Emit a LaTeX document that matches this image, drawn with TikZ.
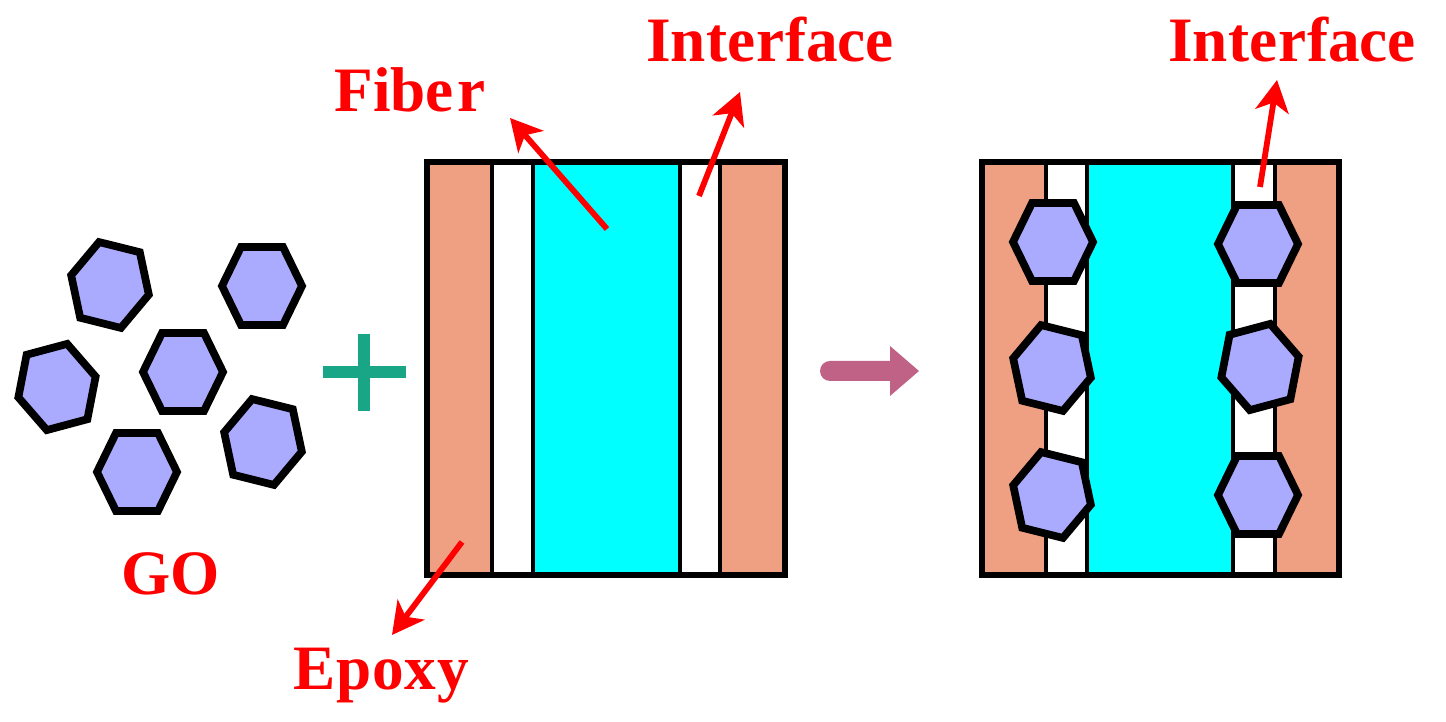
\documentclass[tikz,border=0pt]{standalone}
\usepackage{fontspec}
\usepackage{xcolor}
\setmainfont{Liberation Serif}
\usetikzlibrary{arrows.meta}
\usetikzlibrary{positioning}
\definecolor{my_epoxy}{HTML}{F0A082}
\definecolor{my_fiber}{RGB}{0,255,255}
\definecolor{my_violet}{HTML}{AAAAFF}
\definecolor{my_teal}{HTML}{18A687}
\definecolor{my_mauve}{HTML}{C06286}
\tikzset{my_picture/.style={x=0.02cm,y=0.02cm}}
\tikzset{my_label/.style={text=red, inner sep=0pt, anchor=base west, font=\fontsize{36}{36}\selectfont\bfseries}}
\tikzset{my_pointer/.style={-{Stealth[length=18pt,width=19pt,inset=5pt]}, red, line width=3.3pt}}
\tikzset{my_frame/.style={draw=black, line width=3.8pt}}
\tikzset{my_divider/.style={draw=black, line width=2.2pt}}
\tikzset{my_flake/.pic={
    \draw[fill=my_violet, line width=4.4pt]
        (40,0) -- (21,39) -- (-21,39) -- (-40,0) -- (-21,-39) -- (21,-39) -- cycle;
}}
\newcommand{\stripbox}[6]{
    \fill[my_epoxy] (#1,560) rectangle (#6,147);
    \fill[white] (#2,560) rectangle (#5,147);
    \fill[my_fiber] (#3,560) rectangle (#4,147);
    \foreach \x in {#2,#3,#4,#5}
        \draw[my_divider] (\x,560) -- (\x,147);
    \draw[my_frame] (#1,147) rectangle (#6,560);
}

\begin{document}
\begin{tikzpicture}[my_picture]
    \useasboundingbox (0,0) rectangle (1446,722);

    % loose flakes
    \pic[rotate=-14] (go_a) at (110,437) {my_flake};
    \pic (go_b) at (262,436) {my_flake};
    \pic (go_c) at (183,350) {my_flake};
    \pic[rotate=15] (go_d) at (57,335) {my_flake};
    \pic[rotate=-14] (go_e) at (263,280) {my_flake};
    \pic (go_f) at (137,250) {my_flake};
    \node[my_label] (go) at (121,127) {GO};

    % plus sign
    \draw[my_teal, line width=6.6pt] (323,350) -- (406,350);
    \draw[my_teal, line width=6.6pt] (364,388) -- (364,311);

    % left fiber
    \stripbox{427}{492}{533}{680}{720}{785}

    % process arrow
    \fill[my_mauve] (830,361) -- (890,361) -- (890,376) -- (919,351) -- (890,326)
        -- (890,341) -- (830,341) arc (270:90:10) -- cycle;

    % right fiber
    \stripbox{982}{1046}{1087}{1233}{1275}{1339}
    \pic (go_g) at (1053,480) {my_flake};
    \pic[rotate=-14] (go_h) at (1052,354) {my_flake};
    \pic[rotate=-14] (go_i) at (1052,227) {my_flake};
    \pic (go_j) at (1258,478) {my_flake};
    \pic[rotate=15] (go_k) at (1260,355) {my_flake};
    \pic (go_l) at (1258,227) {my_flake};

    \node[my_label] (fiber) at (334,610) {Fibe\kern2pt r};
    \node[my_label] (interface_a) at (646,660) {Inte\kern1pt rface};
    \node[my_label] (epoxy) at (293,32) {E\kern.5pt p\kern.5pt o\kern.5pt x\kern.5pt y};
    \node[my_label] (interface_b) at (1168,660) {Inte\kern1pt rface};

    \coordinate (fiber_start) at (607,493);
    \coordinate (fiber_end) at (510,604);
    \coordinate (interface_a_start) at (699,526);
    \coordinate (interface_a_end) at (740,630);
    \coordinate (epoxy_start) at (462,180);
    \coordinate (epoxy_end) at (392,87);
    \coordinate (interface_b_start) at (1260,535);
    \coordinate (interface_b_end) at (1277,642);

    \path[my_pointer]
        (fiber_start) edge (fiber_end)
        (interface_a_start) edge (interface_a_end)
        (epoxy_start) edge (epoxy_end)
        (interface_b_start) edge (interface_b_end)
    ;
\end{tikzpicture}
\end{document}
